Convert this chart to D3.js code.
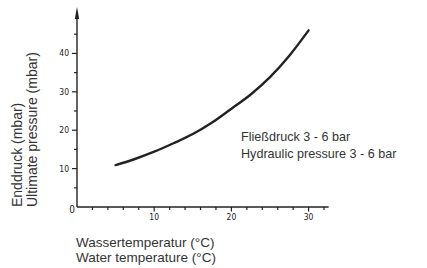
<!DOCTYPE html>
<meta charset="utf-8">
<title>Enddruck</title>
<script src="https://cdn.jsdelivr.net/npm/d3@7"></script>
<style>
body { margin: 0; background: #fff; }
text { font-family: "Liberation Sans", Arial, sans-serif; fill: #333; }
.tick-label { font-family: "DejaVu Sans Condensed", "DejaVu Sans", sans-serif; font-size: 8.5px; fill: #222; }
</style>
<body>
<script>

// curve: water temperature (°C) vs ultimate pressure (mbar)
var temps = [5, 7.5, 10, 12.5, 15, 17.5, 20, 22.5, 25, 27.5, 30];
var pressures = [10.9, 12.5, 14.4, 16.6, 19.0, 22.0, 25.6, 29.3, 33.8, 39.4, 46];

var xMajor = [10, 20, 30];
var yMajor = [10, 20, 30, 40];

var width = 427, height = 268;

var svg = d3.select("body").append("svg")
    .attr("width", width)
    .attr("height", height);

var x = d3.scaleLinear().domain([0, 10]).range([77, 154.2]);
var y = d3.scaleLinear().domain([0, 10]).range([207, 168.6]);

var ink = "#222";

// x axis line
svg.append("line")
    .attr("x1", x(0)).attr("x2", x(32.6))
    .attr("y1", y(0)).attr("y2", y(0))
    .attr("stroke", ink).attr("stroke-width", 1.4);

// y axis line with arrow
svg.append("line")
    .attr("x1", x(0)).attr("x2", x(0))
    .attr("y1", y(0)).attr("y2", 12)
    .attr("stroke", ink).attr("stroke-width", 1.4);
svg.append("path")
    .attr("d", "M" + x(0) + ",7 L" + (x(0) - 2.2) + ",19 L" + (x(0) + 2.2) + ",19 Z")
    .attr("fill", ink);

// x ticks every 2
var xTicks = d3.range(2, 33, 2);
svg.selectAll(".xt").data(xTicks).enter().append("line")
    .attr("x1", function(d){ return x(d); })
    .attr("x2", function(d){ return x(d); })
    .attr("y1", y(0))
    .attr("y2", function(d){ return y(0) + (d % 10 == 0 ? 4.5 : 3); })
    .attr("stroke", ink).attr("stroke-width", 1.2);

// y ticks every 5
var yTicks = d3.range(5, 46, 5);
svg.selectAll(".yt").data(yTicks).enter().append("line")
    .attr("y1", function(d){ return y(d); })
    .attr("y2", function(d){ return y(d); })
    .attr("x1", x(0))
    .attr("x2", function(d){ return x(0) - (d % 10 == 0 ? 5 : 3); })
    .attr("stroke", ink).attr("stroke-width", 1.2);

svg.selectAll(".xl").data(xMajor).enter().append("text")
    .attr("class", "tick-label")
    .attr("x", function(d){ return x(d); })
    .attr("y", y(0) + 13)
    .attr("text-anchor", "middle")
    .text(function(d){ return d; });

svg.selectAll(".yl").data(yMajor).enter().append("text")
    .attr("class", "tick-label")
    .attr("x", x(0) - 8)
    .attr("y", function(d){ return y(d) + 3; })
    .attr("text-anchor", "end")
    .text(function(d){ return d; });

svg.append("text")
    .attr("class", "tick-label")
    .attr("x", x(0) - 2)
    .attr("y", y(0) + 6)
    .attr("text-anchor", "end")
    .style("font-size", "10px")
    .text("0");

// curve
var line = d3.line()
    .x(function(d){ return x(d[0]); })
    .y(function(d){ return y(d[1]); })
    .curve(d3.curveMonotoneX);

svg.append("path")
    .datum(d3.zip(temps, pressures))
    .attr("d", line)
    .attr("fill", "none")
    .attr("stroke", ink)
    .attr("stroke-width", 2.4)
    .attr("stroke-linecap", "round");

// axis titles
var yTitles = ["Enddruck (mbar)", "Ultimate pressure (mbar)"];
yTitles.forEach(function(t, i){
  svg.append("text")
    .attr("transform", "translate(" + (22 + i * 15) + "," + y(0) + ") rotate(-90)")
    .attr("font-size", "14px")
    .text(t);
});

var xTitles = ["Wassertemperatur (°C)", "Water temperature (°C)"];
xTitles.forEach(function(t, i){
  svg.append("text")
    .attr("x", 76)
    .attr("y", 247 + i * 15)
    .attr("font-size", "13.5px")
    .text(t);
});

var notes = ["Fließdruck 3 - 6 bar", "Hydraulic pressure 3 - 6 bar"];
notes.forEach(function(t, i){
  svg.append("text")
    .attr("x", 241)
    .attr("y", 141 + i * 17)
    .attr("font-size", "12.6px")
    .text(t);
});

</script>
</body>
